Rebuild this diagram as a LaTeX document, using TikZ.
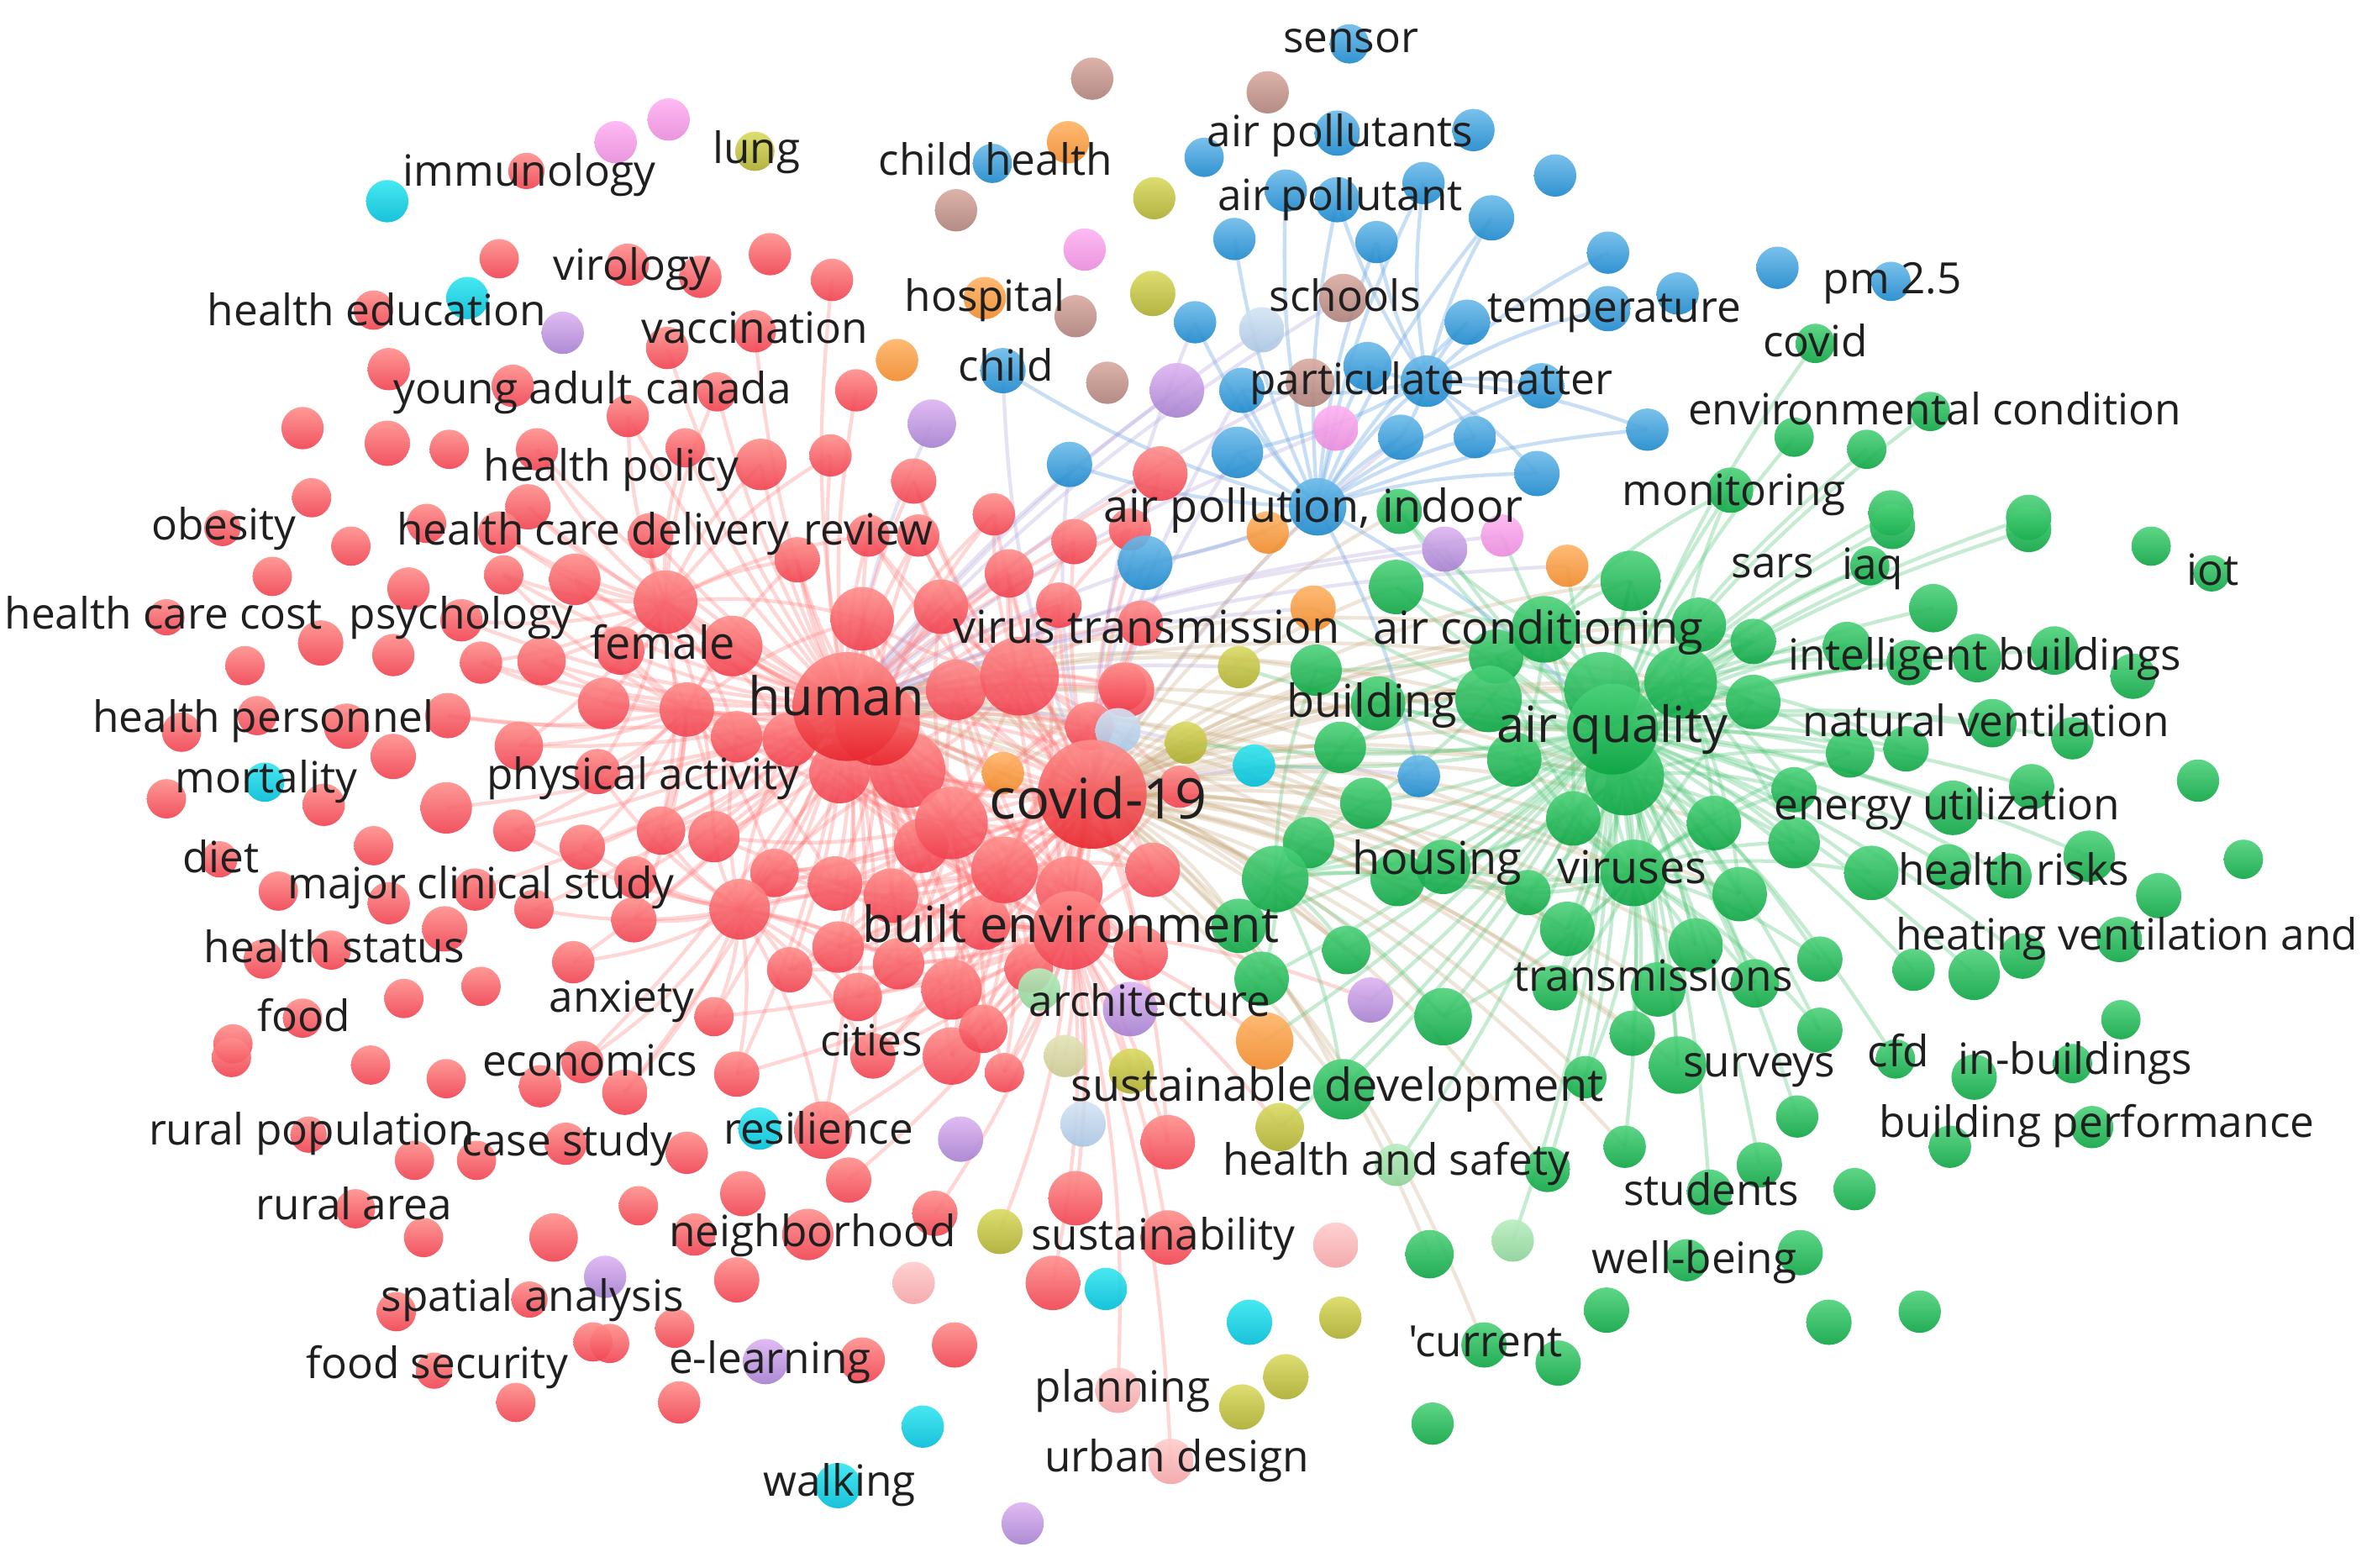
\documentclass[tikz,border=0pt]{standalone}
\usepackage{fontspec}
\newfontfamily\lblfont{Open Sans}
\usetikzlibrary{shadings}
\pgfdeclarelayer{bg}
\pgfsetlayers{bg,main}
\definecolor{rt}{HTML}{FF8F8C}\definecolor{rb}{HTML}{F0414F}
\definecolor{gt}{HTML}{4DD27A}\definecolor{gb}{HTML}{0CA443}
\definecolor{bt}{HTML}{6CBBEA}\definecolor{bb}{HTML}{1B87CB}
\definecolor{ct}{HTML}{33E6F0}\definecolor{cb}{HTML}{00BCD6}
\definecolor{put}{HTML}{DDB4F2}\definecolor{pub}{HTML}{A57FCF}
\definecolor{pkt}{HTML}{FFB3F2}\definecolor{pkb}{HTML}{E88ADB}
\definecolor{olt}{HTML}{DADA62}\definecolor{olb}{HTML}{ACAC2E}
\definecolor{brt}{HTML}{D9AAA0}\definecolor{brb}{HTML}{AD7F79}
\definecolor{ort}{HTML}{FFB466}\definecolor{orb}{HTML}{F0892A}
\definecolor{lbt}{HTML}{D4E4F4}\definecolor{lbb}{HTML}{A9C5E2}
\definecolor{lgt}{HTML}{B8EEC0}\definecolor{lgb}{HTML}{8BD195}
\definecolor{lpt}{HTML}{FFCCCC}\definecolor{lpb}{HTML}{F3A3A6}
\definecolor{kht}{HTML}{E4E4B8}\definecolor{khb}{HTML}{C8C890}
\definecolor{re}{HTML}{FF6E6C}\definecolor{ge}{HTML}{4CC674}
\definecolor{te}{HTML}{C4A474}\definecolor{be}{HTML}{74AEE4}
\definecolor{pe}{HTML}{B2A0D8}\definecolor{txt}{HTML}{1F1F1F}
\definecolor{hrb}{HTML}{E8262E}
\tikzset{
  ball/.style={circle, inner sep=0pt, outer sep=0pt, minimum size=#1, fill opacity=0.9},
  redb/.style={ball=#1, top color=rt, bottom color=rb},
  hredb/.style={ball=#1, top color=rt, bottom color=hrb},
  grnb/.style={ball=#1, top color=gt, bottom color=gb},
  blub/.style={ball=#1, top color=bt, bottom color=bb},
  cyab/.style={ball=#1, top color=ct, bottom color=cb},
  purb/.style={ball=#1, top color=put, bottom color=pub},
  pinb/.style={ball=#1, top color=pkt, bottom color=pkb},
  olib/.style={ball=#1, top color=olt, bottom color=olb},
  brob/.style={ball=#1, top color=brt, bottom color=brb},
  orab/.style={ball=#1, top color=ort, bottom color=orb},
  lblub/.style={ball=#1, top color=lbt, bottom color=lbb},
  lgrnb/.style={ball=#1, top color=lgt, bottom color=lgb},
  lpinb/.style={ball=#1, top color=lpt, bottom color=lpb},
  khab/.style={ball=#1, top color=kht, bottom color=khb},
  redge/.style={draw=re, line width=1.2pt, opacity=0.28},
  gedge/.style={draw=ge, line width=1.2pt, opacity=0.32},
  tedge/.style={draw=te, line width=1.2pt, opacity=0.28},
  bedge/.style={draw=be, line width=1.2pt, opacity=0.4},
  pedge/.style={draw=pe, line width=1.2pt, opacity=0.3},
  lbl/.style={font=\lblfont\fontsize{14.25}{16}\selectfont, text=txt, inner sep=0pt, anchor=base},
  lblm/.style={lbl, font=\lblfont\fontsize{15}{17}\selectfont},
  lblb/.style={lbl, font=\lblfont\fontsize{16.5}{19}\selectfont},
  lblh/.style={lbl, font=\lblfont\fontsize{17.5}{20}\selectfont},
  lblc/.style={lbl, font=\lblfont\fontsize{18.5}{21}\selectfont},
}
\def\redlist{348/113/12, 330/171/13, 247/205/13, 257/244/14, 339/255/14, 200/283/14, 256/293/15, 297/297/13, 355/297/14, 206/329/13, 349/335/15, 147/349/12, 282/346/13,
415/175/14, 463/183/14, 509/168/14, 550/185/14, 441/230/14, 499/219/14, 566/258/14, 474/259/13, 415/275/14, 453/296/13, 503/307/17, 549/301/14, 604/318/15,
232/361/13, 180/381/13, 270/389/14, 333/380/13, 380/383/17, 110/408/12, 212/425/15, 260/433/14, 305/410/14, 318/438/14, 358/437/16, 162/440/13, 296/473/15, 170/473/13, 229/480/15, 120/484/13, 343/493/16, 260/500/15, 110/528/13, 214/532/14, 295/534/17, 340/549/14, 247/559/13, 145/568/12, 184/589/13, 257/597/14, 314/588/14, 353/601/13, 294/614/15, 174/634/13, 219/628/13, 379/636/14, 318/652/13, 267/660/13, 200/673/13, 154/690/13,
153/699/13, 245/704/13, 295/713/13, 357/718/14, 385/702/14, 204/750/12, 274/767/13, 315/767/13, 374/756/14, 235/799/13, 280/818/13, 366/818/16, 262/867/13, 350/859/12, 287/906/12, 341/927/13, 392/887/13,
413/722/15, 487/710/15, 577/698/15, 629/698/19, 664/709/13, 544/747/19, 772/755/18, 454/762/14, 422/797/13, 491/789/15, 561/780/15, 618/802/15, 711/792/18, 459/816/14, 534/816/17, 772/818/18, 487/846/15, 696/848/18, 446/878/13, 403/888/13, 570/899/15, 631/889/15, 449/927/14,
430/354/15, 527/370/15, 574/354/14, 607/354/14, 657/340/14, 710/358/15, 747/350/14, 767/313/18, 484/427/20, 570/409/21, 622/401/18, 667/379/16, 700/400/15, 745/456/18, 754/412/15, 632/456/20, 600/509/25, 555/511/20, 522/489/18, 487/487/17, 707/588/22, 762/575/18, 609/559/18, 552/584/18, 512/577/16, 472/553/17, 437/549/16, 419/608/15, 522/641/15, 554/626/17, 589/592/18, 594/637/17, 629/654/20, 567/659/16, 472/672/13, 754/630/18, 742/454/16, 399/465/17, 410/430/16, 395/510/15, 385/560/15, 420/580/14, 650/610/18, 680/640/16, 780/520/14, 720/480/16, 650/680/16, 330/352/14}
\def\grnlist{1144/324/15, 1200/227/13, 1276/272/13, 1186/289/13, 1234/297/13, 1250/339/15, 1341/342/15, 925/338/15,
1078/384/20, 923/388/18, 870/443/17, 1123/413/18, 1159/424/15, 989/434/18, 984/462/22, 1059/456/25, 1159/464/18, 911/465/18, 886/494/17, 1001/502/18, 903/531/17, 1040/541/18, 1133/544/18, 865/557/17, 924/581/18, 954/573/18, 1010/590/15, 1150/591/18, 1036/614/18, 1121/625/18, 890/628/16, 819/612/18, 834/647/18, 954/672/19, 1028/653/15, 1096/654/18, 1079/683/15,
1251/348/15, 1341/350/15, 1422/361/13, 1236/374/13, 1462/379/12, 1278/402/16, 1221/427/16, 1262/438/15, 1307/435/16, 1358/430/16, 1410/447/15, 1317/478/16, 1223/498/16, 1260/495/15, 1370/488/14, 1453/516/14, 1186/522/15, 1343/520/15, 1291/534/18, 1186/557/17, 1237/577/18, 1288/573/15, 1328/579/15, 1381/566/17, 1483/568/13, 1427/592/15, 1203/634/15, 1265/641/14, 1305/644/17, 1337/632/15, 1401/621/15, 1402/674/13, 1203/681/15,
888/720/20, 1048/712/14, 1109/704/19, 1023/773/15, 1074/758/14, 1163/770/15, 1130/788/15, 945/829/16, 1115/833/14, 1062/866/15, 981/889/15, 1030/901/15, 947/941/14, 1253/700/13, 1305/712/15, 1370/703/13, 1188/738/14, 1289/758/14, 1383/745/14, 1226/786/14, 1190/828/15, 1209/874/15, 1269/867/14, 1160/650/16}
\def\blulist{892/29/13, 796/104/13, 884/88/15, 974/86/14, 850/126/14, 884/132/15, 941/121/14, 1028/116/14, 986/144/15, 816/158/14, 910/160/14, 1063/167/14, 1175/177/14, 790/213/14, 970/213/15, 1109/194/14, 1063/204/15, 821/258/15, 904/242/16, 1019/255/15, 818/299/17, 926/289/15, 975/289/14, 1089/284/14, 1016/313/15, 1250/186/13, 656/108/13, 663/245/15, 707/307/15, 757/372/18, 938/513/14}
\begin{document}
\begin{tikzpicture}[x=0.5pt, y=-0.5pt]
\begin{pgfonlayer}{bg}
\fill[white] (0,0) rectangle (1568,1036);
\end{pgfonlayer}
\useasboundingbox (0,0) rectangle (1568,1036);
% clusters
\foreach \x/\y/\r [count=\i] in \redlist {\node[redb=\r*1pt] (r\i) at (\x,\y) {};}
\foreach \x/\y/\r [count=\i] in \grnlist {\node[grnb=\r*1pt] (g\i) at (\x,\y) {};}
\foreach \x/\y/\r [count=\i] in \blulist {\node[blub=\r*1pt] (b\i) at (\x,\y) {};}
\foreach \x/\y/\r [count=\i] in {256/133/14, 309/197/14, 175/517/13, 829/506/14, 502/746/14, 731/852/14, 826/874/15, 610/943/14, 554/982/15}
  {\node[cyab=\r*1pt] (c\i) at (\x,\y) {};}
\foreach \x/\y/\r [count=\i] in {372/220/14, 778/258/18, 616/280/16, 955/363/15, 747/667/18, 906/661/15, 635/753/15, 400/844/14, 506/900/15, 676/1007/14}
  {\node[purb=\r*1pt] (p\i) at (\x,\y) {};}
\foreach \x/\y/\r [count=\i] in {407/94/14, 442/79/14, 717/165/14, 883/283/15, 993/354/14}
  {\node[pinb=\r*1pt] (k\i) at (\x,\y) {};}
\foreach \x/\y/\r [count=\i] in {499/100/13, 763/131/14, 762/194/15, 819/441/14, 784/491/14, 748/708/15, 661/814/15, 846/745/16, 886/871/14, 850/910/15, 821/930/15}
  {\node[olib=\r*1pt] (o\i) at (\x,\y) {};}
\foreach \x/\y/\r [count=\i] in {722/52/14, 838/61/14, 632/139/14, 711/209/14, 732/253/14, 888/197/16, 866/253/16}
  {\node[brob=\r*1pt] (w\i) at (\x,\y) {};}
\foreach \x/\y/\r [count=\i] in {706/94/14, 651/197/14, 593/238/14, 838/352/14, 1036/374/14, 868/402/15, 663/511/14, 836/688/19}
  {\node[orab=\r*1pt] (q\i) at (\x,\y) {};}
\foreach \x/\y/\r [count=\i] in {834/218/15, 739/483/15, 716/743/15}
  {\node[lblub=\r*1pt] (lb\i) at (\x,\y) {};}
\foreach \x/\y/\r [count=\i] in {687/654/14, 923/770/14, 1000/820/14}
  {\node[lgrnb=\r*1pt] (lg\i) at (\x,\y) {};}
\foreach \x/\y/\r [count=\i] in {604/848/14, 883/823/15, 739/919/15, 774/966/15}
  {\node[lpinb=\r*1pt] (lp\i) at (\x,\y) {};}
\node[khab=14pt] (kh1) at (704,698) {};
% secondary hubs
\node[redb=21pt] (hA) at (440,398) {};
\node[redb=26pt] (hB) at (674,447) {};
\node[redb=18pt] (hF) at (454,469) {};
\node[redb=20pt] (hE) at (489,601) {};
\node[redb=22pt] (hG) at (664,575) {};
\node[redb=24pt] (hD) at (629,544) {};
\node[hredb=28pt] (hC) at (580,478) {};
\node[grnb=22pt] (gA) at (1021,416) {};
\node[grnb=24pt] (gC) at (1111,451) {};
\node[grnb=22pt] (gD) at (843,581) {};
\node[grnb=22pt] (gE) at (1080,577) {};
\node[grnb=26pt] (gB) at (1074,513) {};
% main hubs
\node[blub=17pt] (pmat) at (943,252) {};
\node[blub=19pt] (apind) at (871,335) {};
\node[grnb=30pt] (airq) at (1066,482) {};
\node[redb=26pt] (builtenv) at (708,615) {};
\node[hredb=36pt] (human) at (560,467) {};
\node[hredb=36pt] (covid) at (722,525) {};
% edges
\begin{pgfonlayer}{bg}
\foreach \x/\y/\r [count=\i] in \redlist {
  \pgfmathsetmacro\dd{veclen(\x-560,\y-467)}
  \ifdim\dd pt<300pt \draw[redge] (human.center) to[bend left=8] (r\i.center);\fi
  \pgfmathsetmacro\dd{veclen(\x-722,\y-525)}
  \ifdim\dd pt<240pt \draw[redge] (covid.center) to[bend left=8] (r\i.center);\fi
  \pgfmathsetmacro\dd{veclen(\x-708,\y-615)}
  \ifdim\dd pt<250pt \draw[redge] (builtenv.center) to[bend left=8] (r\i.center);\fi
  \foreach \hx/\hy/\hn in {440/398/hA, 674/447/hB, 454/469/hF, 489/601/hE, 664/575/hG, 629/544/hD, 580/478/hC} {
    \pgfmathsetmacro\dd{veclen(\x-\hx,\y-\hy)}
    \ifdim\dd pt<160pt \draw[redge] (\hn.center) to[bend left=10] (r\i.center);\fi}
}
\foreach \hn in {hA,hB,hC,hD,hE,hF,hG,builtenv} {
  \draw[redge] (human.center) to[bend left=8] (\hn.center);
  \draw[redge] (covid.center) to[bend left=8] (\hn.center);}
\foreach \x/\y/\r [count=\i] in \grnlist {
  \pgfmathsetmacro\dd{veclen(\x-1066,\y-482)}
  \ifdim\dd pt<330pt \draw[gedge] (airq.center) to[bend left=8] (g\i.center);\fi
  \foreach \hx/\hy/\hn in {1021/416/gA, 1111/451/gC, 843/581/gD, 1080/577/gE, 1074/513/gB} {
    \pgfmathsetmacro\dd{veclen(\x-\hx,\y-\hy)}
    \ifdim\dd pt<170pt \draw[gedge] (\hn.center) to[bend left=10] (g\i.center);\fi}
  \pgfmathsetmacro\dd{veclen(\x-722,\y-525)}
  \ifdim\dd pt<450pt \draw[tedge] (covid.center) to[bend left=14] (g\i.center);\fi
  \pgfmathsetmacro\dd{veclen(\x-560,\y-467)}
  \ifdim\dd pt<500pt \ifodd\i \draw[tedge] (human.center) to[bend left=14] (g\i.center);\fi\fi
}
\foreach \hn in {gA,gB,gC,gD,gE} {
  \draw[gedge] (airq.center) to[bend left=8] (\hn.center);
  \draw[tedge] (covid.center) to[bend left=12] (\hn.center);
  \draw[tedge] (human.center) to[bend left=12] (\hn.center);}
\foreach \x/\y/\r [count=\i] in \blulist {
  \pgfmathsetmacro\dd{veclen(\x-871,\y-335)}
  \ifdim\dd pt<230pt \draw[bedge] (apind.center) to[bend left=8] (b\i.center);\fi
  \pgfmathsetmacro\dd{veclen(\x-943,\y-252)}
  \ifdim\dd pt<150pt \draw[bedge] (pmat.center) to[bend left=8] (b\i.center);\fi
  \pgfmathsetmacro\dd{veclen(\x-722,\y-525)}
  \ifdim\dd pt<330pt \draw[pedge] (covid.center) to[bend left=10] (b\i.center);\fi
}
\foreach \n in {p2,p3,p4,k4,k5,w6,w7,q4,q5,q6,lb1,o4,o5} {\draw[pedge] (human.center) to[bend left=8] (\n.center);}
\foreach \n in {q8,o6,o7,p5,p6,lg1,lb3,kh1,lp3,lp4,o8} {\draw[redge] (builtenv.center) to[bend left=8] (\n.center);}
\foreach \n in {q8,o8,lg2,lg3,p6,q5,q6,o4,o5,c4,k5,p4} {\draw[gedge] (airq.center) to[bend left=8] (\n.center);}
\draw[bedge] (apind.center) to[bend left=8] (pmat.center);
\draw[bedge] (apind.center) to[bend left=8] (airq.center);
\draw[tedge] (covid.center) to[bend left=8] (apind.center);
\draw[tedge] (covid.center) to[bend left=8] (airq.center);
\draw[redge] (human.center) to[bend left=8] (covid.center);
\end{pgfonlayer}
% labels
\node[lbl] (t1) at (893,35) {sensor};
\node[lbl] (t2) at (886,97) {air pollutants};
\node[lbl] (t3) at (886,139) {air pollutant};
\node[lbl] (t4) at (658,116) {child health};
\node[lbl] (t5) at (350,123) {immunology};
\node[lbl] (t6) at (500,108) {lung};
\node[lbl] (t7) at (418,185) {virology};
\node[lbl] (t8) at (249,215) {health education};
\node[lbl] (t9) at (499,227) {vaccination};
\node[lbl] (t10) at (651,206) {hospital};
\node[lbl] (t11) at (889,206) {schools};
\node[lbl] (t12) at (1067,213) {temperature};
\node[lbl] (t13) at (1251,194) {pm 2.5};
\node[lbl] (t14) at (1200,236) {covid};
\node[lbl] (t15) at (665,252) {child};
\node[lbl] (t16) at (339,267) {young adult};
\node[lbl] (t17) at (475,267) {canada};
\node[lbl] (t18) at (946,261) {particulate matter};
\node[lbl] (t19) at (1279,281) {environmental condition};
\node[lbl] (t20) at (404,318) {health policy};
\node[lbl] (t21) at (1146,334) {monitoring};
\node[lbl] (t22) at (148,357) {obesity};
\node[lbl] (t23) at (392,360) {health care delivery};
\node[lbl] (t24) at (574,360) {review};
\node[lblm] (t25) at (868,345) {air pollution, indoor};
\node[lbl] (t26) at (1172,382) {sars};
\node[lbl] (t27) at (1238,383) {iaq};
\node[lbl] (t28) at (1463,387) {iot};
\node[lbl] (t29) at (108,416) {health care cost};
\node[lbl] (t30) at (305,416) {psychology};
\node[lblm] (t31) at (758,425) {virus transmission};
\node[lblm] (t32) at (1017,426) {air conditioning};
\node[lblm] (t33) at (438,436) {female};
\node[lbl] (t34) at (1312,443) {intelligent buildings};
\node[lblh] (t35) at (553,473) {human};
\node[lblm] (t36) at (907,474) {building};
\node[lblb] (t37) at (1066,491) {air quality};
\node[lbl] (t38) at (1313,487) {natural ventilation};
\node[lbl] (t39) at (174,484) {health personnel};
\node[lbl] (t40) at (176,524) {mortality};
\node[lbl] (t41) at (425,522) {physical activity};
\node[lblc] (t42) at (726,541) {covid-19};
\node[lbl] (t43) at (1287,542) {energy utilization};
\node[lbl] (t44) at (146,577) {diet};
\node[lbl] (t45) at (318,594) {major clinical study};
\node[lblm] (t46) at (950,578) {housing};
\node[lblm] (t47) at (1079,584) {viruses};
\node[lbl] (t48) at (1331,585) {health risks};
\node[lbl] (t49) at (221,636) {health status};
\node[lblb] (t50) at (708,623) {built environment};
\node[lbl] (t51) at (1406,628) {heating ventilation and};
\node[lbl] (t52) at (1093,655) {transmissions};
\node[lbl] (t53) at (411,669) {anxiety};
\node[lbl] (t54) at (760,672) {architecture};
\node[lbl] (t55) at (201,682) {food};
\node[lbl] (t56) at (576,698) {cities};
\node[lbl] (t57) at (390,711) {economics};
\node[lbl] (t58) at (1163,712) {surveys};
\node[lbl] (t59) at (1255,705) {cfd};
\node[lbl] (t60) at (1372,710) {in-buildings};
\node[lblm] (t61) at (884,728) {sustainable development};
\node[lbl] (t62) at (206,757) {rural population};
\node[lbl] (t63) at (375,764) {case study};
\node[lbl] (t64) at (541,756) {resilience};
\node[lbl] (t65) at (1386,752) {building performance};
\node[lbl] (t66) at (923,777) {health and safety};
\node[lbl] (t67) at (234,806) {rural area};
\node[lbl] (t68) at (1131,797) {students};
\node[lbl] (t69) at (537,824) {neighborhood};
\node[lbl] (t70) at (769,826) {sustainability};
\node[lbl] (t71) at (1120,842) {well-being};
\node[lbl] (t72) at (352,867) {spatial analysis};
\node[lbl] (t73) at (982,897) {'current};
\node[lbl] (t74) at (289,911) {food security};
\node[lbl] (t75) at (509,908) {e-learning};
\node[lbl] (t76) at (742,927) {planning};
\node[lbl] (t77) at (778,973) {urban design};
\node[lbl] (t78) at (555,989) {walking};
\end{tikzpicture}
\end{document}
